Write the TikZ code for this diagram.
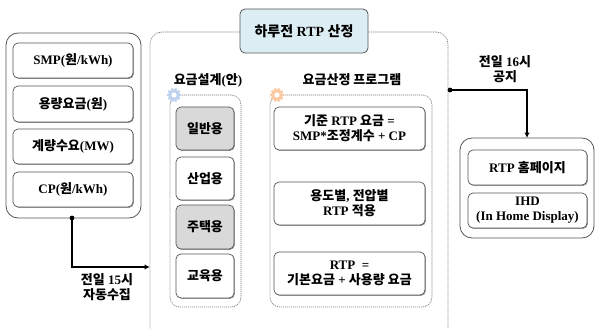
\documentclass[tikz,border=0pt]{standalone}
\usepackage{fontspec}
\setmainfont{Liberation Serif}
\newfontfamily\krfont{Noto Sans CJK KR}
\newcommand\kor[1]{{\krfont #1}}
\usetikzlibrary{shadows,arrows.meta,calc}
\definecolor{titleblue}{HTML}{DCEEF4}
\definecolor{boxgray}{HTML}{D9D9D9}
\definecolor{gearblue}{HTML}{BDD2EC}
\definecolor{gearorange}{HTML}{FAC9A3}
\definecolor{edge}{HTML}{555555}
\definecolor{dotcol}{HTML}{7F7F7F}
\begin{document}
\begin{tikzpicture}[x=1pt,y=-1pt,
  every node/.style={font=\fontsize{13}{15}\selectfont\bfseries, align=center, inner sep=0pt},
  outerbox/.style={draw=edge, line width=0.8pt, rounded corners=12pt},
  itembox/.style={draw=edge, line width=0.7pt, rounded corners=5pt, fill=white,
    drop shadow={shadow xshift=0.9pt, shadow yshift=-0.9pt, opacity=0.4, fill=black}},
  grayitem/.style={itembox, fill=boxgray},
  dotbox/.style={draw=dotcol, line width=0.7pt, dash pattern=on 1.1pt off 0.9pt, rounded corners=10pt},
  link/.style={line width=1.1pt, black},
  tip/.style={-{Latex[length=5.5pt,width=5.5pt]}},
  lbl/.style={font=\fontsize{13}{14.5}\selectfont\bfseries}
]
\useasboundingbox (0,0) rectangle (595,329);
\clip (0,0) rectangle (595,329);

% big dotted frame
\node[dotbox, rounded corners=12pt, minimum width=298pt, minimum height=315pt] (frame) at (299,189.5) {};
% title
\node[draw=edge, line width=0.8pt, rounded corners=5pt, fill=titleblue, minimum width=128pt, minimum height=44pt,
  font=\fontsize{14}{16}\selectfont\bfseries] (title) at (304,31) {\kor{하루전} RTP \kor{산정}};

% left source box
\node[outerbox, minimum width=135pt, minimum height=185pt] (src) at (73.5,125.5) {};
\node[itembox, minimum width=120pt, minimum height=35pt] (smp) at (73,60.5) {SMP(\kor{원}/kWh)};
\node[itembox, minimum width=120pt, minimum height=36pt] (cap) at (73,104) {\kor{용량요금}(\kor{원})};
\node[itembox, minimum width=120pt, minimum height=35pt] (dem) at (73,146.5) {\kor{계량수요}(MW)};
\node[itembox, minimum width=120pt, minimum height=35pt] (cp) at (73,189.5) {CP(\kor{원}/kWh)};

\coordinate (d1) at (72,218);
\coordinate (a1) at (150,267);
\fill (d1) circle (2.4pt);
\draw[link, tip] (d1) |- (a1);
\node[lbl] (l1) at (107,287) {\kor{전일} 15\kor{시}\\\kor{자동수집}};

% design sub box
\node[lbl] (h1) at (208,80) {\kor{요금설계}(\kor{안})};
\node[dotbox, minimum width=71pt, minimum height=212pt] (sub1) at (205.5,201) {};
\node[grayitem, minimum width=58pt, minimum height=43pt] (u1) at (205,128.5) {\kor{일반용}};
\node[itembox, minimum width=58pt, minimum height=43pt] (u2) at (205,178.5) {\kor{산업용}};
\node[grayitem, minimum width=58pt, minimum height=44pt] (u3) at (205,227) {\kor{주택용}};
\node[itembox, minimum width=58pt, minimum height=44pt] (u4) at (205,276) {\kor{교육용}};

% program sub box
\node[lbl] (h2) at (352,80) {\kor{요금산정 프로그램}};
\node[dotbox, minimum width=162pt, minimum height=212pt] (sub2) at (351,201) {};
\node[itembox, minimum width=151pt, minimum height=43pt] (p1) at (349.5,128.5) {\kor{기준} RTP \kor{요금} =\\SMP*\kor{조정계수} + CP};
\node[itembox, minimum width=151pt, minimum height=43pt] (p2) at (349.5,203.5) {\kor{용도별}, \kor{전압별}\\RTP \kor{적용}};
\node[itembox, minimum width=151pt, minimum height=43pt] (p3) at (349.5,273.5) {RTP\ \ =\\\kor{기본요금} + \kor{사용량 요금}};

% gears
\foreach \cx/\col in {174/gearblue, 277/gearorange}{
  \fill[\col] (\cx,95) circle (5.6pt);
  \foreach \a in {0,36,...,324}{
    \fill[\col] ($(\cx,95)+(\a:5.8pt)$) circle (1.6pt);
  }
  \fill[white] (\cx,95) circle (2.6pt);
}

% right output
\coordinate (d2) at (450,90);
\coordinate (a2) at (527,138);
\fill (d2) circle (2.4pt);
\draw[link, tip] (d2) -| (a2);
\node[lbl] (l2) at (505,69) {\kor{전일} 16\kor{시}\\\kor{공지}};
\node[outerbox, minimum width=134pt, minimum height=100pt] (out) at (527,188) {};
\node[itembox, minimum width=119pt, minimum height=35pt] (o1) at (527.5,167.5) {RTP \kor{홈페이지}};
\node[itembox, minimum width=119pt, minimum height=35pt] (o2) at (527.5,210.5) {IHD\\(In Home Display)};
\end{tikzpicture}
\end{document}
